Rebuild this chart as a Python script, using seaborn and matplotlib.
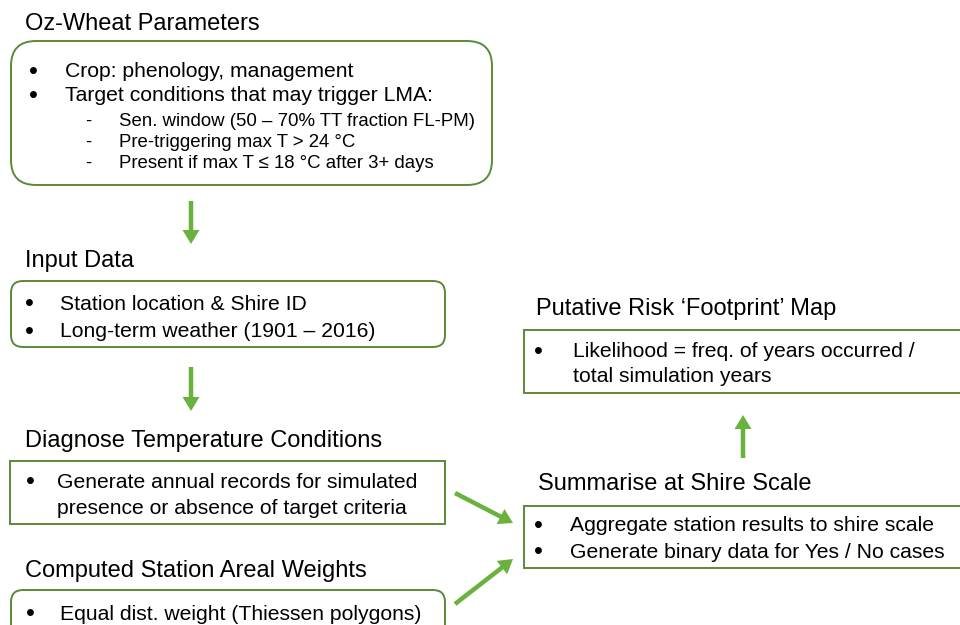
import matplotlib
matplotlib.use("Agg")
import matplotlib.pyplot as plt
import seaborn as sns
from matplotlib.patches import FancyBboxPatch, FancyArrow

# Text of the flow chart
titles = [
    "Oz-Wheat Parameters",
    "Input Data",
    "Diagnose Temperature Conditions",
    "Computed Station Areal Weights",
    "Putative Risk \u2018Footprint\u2019 Map",
    "Summarise at Shire Scale",
]
params_items = ["Crop: phenology, management", "Target conditions that may trigger LMA:"]
params_subitems = [
    "Sen. window (50 \u2013 70% TT fraction FL-PM)",
    "Pre-triggering max T > 24 \u00b0C",
    "Present if max T \u2264 18 \u00b0C after 3+ days",
]
input_items = ["Station location & Shire ID", "Long-term weather (1901 \u2013 2016)"]
diagnose_items = ["Generate annual records for simulated\npresence or absence of target criteria"]
weights_items = ["Equal dist. weight (Thiessen polygons)"]
footprint_items = ["Likelihood = freq. of years occurred /\ntotal simulation years"]
summarise_items = ["Aggregate station results to shire scale", "Generate binary data for Yes / No cases"]

sns.set_theme(style="white")
plt.rcParams["font.family"] = ["Liberation Sans", "DejaVu Sans"]
plt.rcParams["text.color"] = "black"

EDGE = "#5b8a37"
ARROW = "#6ab23e"
TITLE_FS = 17
BODY_FS = 15.2
SUB_FS = 13.4

fig = plt.figure(figsize=(9.6, 6.25), dpi=100)
ax = fig.add_axes([0, 0, 1, 1])
ax.set_xlim(0, 960)
ax.set_ylim(625, 0)
ax.axis("off")


def box(x0, y0, x1, y1, rad=0):
    style = "round,pad=0,rounding_size=%d" % rad if rad else "square,pad=0"
    ax.add_patch(FancyBboxPatch((x0, y0), x1 - x0, y1 - y0, boxstyle=style,
                                fc="white", ec=EDGE, lw=1.4))


def bullets(items, bx, tx, baselines, fs=BODY_FS, mark="\u2022"):
    # each item may wrap onto a second line
    i = 0
    for item in items:
        for k, line in enumerate(item.split("\n")):
            if k == 0:
                if mark == "\u2022":
                    ax.text(bx, baselines[i] + 1.5, mark, ha="center", va="baseline",
                            fontsize=fs * 1.2)
                else:
                    ax.text(bx, baselines[i], mark, ha="center", va="baseline", fontsize=fs)
            ax.text(tx, baselines[i], line, ha="left", va="baseline", fontsize=fs)
            i += 1


def arrow(x0, y0, x1, y1):
    ax.add_patch(FancyArrow(x0, y0, x1 - x0, y1 - y0, width=4.5, head_width=17,
                            head_length=14, length_includes_head=True,
                            color=ARROW, lw=0))


# Oz-Wheat parameters
ax.text(25, 30, titles[0], fontsize=TITLE_FS, va="baseline")
box(11, 41, 492, 185, rad=25)
bullets(params_items, 33, 65, [77, 101])
bullets(params_subitems, 88, 119, [126, 147, 168], fs=SUB_FS, mark="-")
arrow(191, 201, 191, 244)

# Input data
ax.text(25, 267, titles[1], fontsize=TITLE_FS, va="baseline")
box(11, 281, 445, 347, rad=12)
bullets(input_items, 29, 60, [310, 337])
arrow(191, 367, 191, 411)

# Diagnose temperature conditions
ax.text(25, 447, titles[2], fontsize=TITLE_FS, va="baseline")
box(10, 461, 445, 524)
bullets(diagnose_items, 30, 57, [488, 514])

# Areal weights
ax.text(25, 577, titles[3], fontsize=TITLE_FS, va="baseline")
box(11, 590, 445, 660, rad=12)
bullets(weights_items, 30, 60, [620])

# Footprint map
ax.text(536, 315, titles[4], fontsize=TITLE_FS, va="baseline")
box(524, 330, 980, 393)
bullets(footprint_items, 538, 573, [357, 382])
arrow(743, 458, 743, 415)

# Summarise at shire scale
ax.text(538, 490, titles[5], fontsize=TITLE_FS, va="baseline")
box(524, 506, 980, 568)
bullets(summarise_items, 538, 570, [531, 558])

arrow(455, 493, 513, 523)
arrow(455, 604, 513, 559)

fig.savefig("out.png", dpi=100)
